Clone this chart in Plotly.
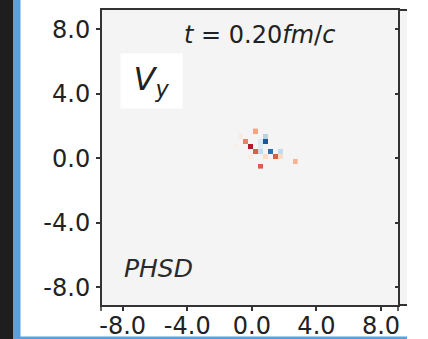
import numpy as np
import plotly.graph_objects as go

# V_y map cells: centre positions (fm) and values
cell_x = [0.245, -0.67, 0.855, -0.365, 0.55, 0.855, -0.975, -0.06, 0.55, 0.245,
          0.55, 1.16, 1.77, -0.06, 0.855, 1.465, 1.77, 2.685, 0.55]
cell_y = [1.69, 1.38, 1.38, 1.07, 1.07, 1.07, 0.76, 0.76, 0.76, 0.45,
          0.45, 0.45, 0.45, 0.14, 0.14, 0.14, 0.14, -0.17, -0.48]
cell_v = [0.40, 0.10, -0.30, 0.50, -0.15, -0.85, 0.06, 0.80, -0.12, 0.60,
          -0.25, -0.75, -0.25, 0.08, 0.20, 0.60, 0.20, 0.35, 0.60]
grid_dx = 0.305
grid_dy = 0.31

tick_vals = [-8.0, -4.0, 0.0, 4.0, 8.0]
tick_text = [f"{v:.1f}" for v in tick_vals]

x_range = [-9.28, 9.05]
y_range = [-9.11, 9.21]

# regular grid holding the cells
x0, y0 = min(cell_x), min(cell_y)
nx = int(round((max(cell_x) - x0) / grid_dx)) + 1
ny = int(round((max(cell_y) - y0) / grid_dy)) + 1
z = [[None] * nx for _ in range(ny)]
for cx, cy, v in zip(cell_x, cell_y, cell_v):
    i = int(round((cx - x0) / grid_dx))
    j = int(round((cy - y0) / grid_dy))
    z[j][i] = v

rdbu_r = ['#053061', '#2166ac', '#4393c3', '#92c5de', '#d1e5f0', '#f7f7f7',
          '#fddbc7', '#f4a582', '#d6604d', '#b2182b', '#67001f']
colorscale = [[k / 10, c] for k, c in enumerate(rdbu_r)]

W, H = 428, 339
ML, MR, MT, MB = 102, 30, 10, 34
PW, PH = W - ML - MR, H - MT - MB


def px_x(p):
    return (p - ML) / PW


def px_y(p):
    return (H - MB - p) / PH


fig = go.Figure()
fig.add_trace(go.Heatmap(
    x0=x0, dx=grid_dx, y0=y0, dy=grid_dy, z=z,
    colorscale=colorscale, zmin=-1, zmax=1, showscale=False,
    hoverinfo='skip', xaxis='x', yaxis='y'))
# inward ticks on the right edge
fig.add_trace(go.Scatter(x=[None], y=[None], xaxis='x', yaxis='y2', showlegend=False))

tick_font = dict(family='DejaVu Sans', size=24, color='#222')
frame = dict(showline=True, linewidth=2, linecolor='#333', mirror=True,
             showgrid=False, zeroline=False, ticks='outside', ticklen=4,
             tickwidth=1.5, tickcolor='#333', tickfont=tick_font, automargin=False)

fig.update_layout(
    width=W, height=H,
    margin=dict(l=ML, r=MR, t=MT, b=MB, autoexpand=False),
    paper_bgcolor='white', plot_bgcolor='#f4f4f4',
    showlegend=False,
    xaxis=dict(range=x_range, anchor='y', tickvals=tick_vals, ticktext=tick_text,
               ticklabelstandoff=-6, **frame),
    yaxis=dict(range=y_range, anchor='x', tickvals=tick_vals, ticktext=tick_text,
               ticklabelstandoff=1, **frame),
    yaxis2=dict(overlaying='y', side='right', anchor='x', range=y_range,
                tickvals=tick_vals, showticklabels=False, ticks='inside',
                ticklen=3, tickwidth=1.5, tickcolor='#333', automargin=False,
                showline=False, showgrid=False, zeroline=False),
)

fig.add_annotation(
    xref='paper', yref='paper', x=px_x(259.5), y=px_y(35),
    xanchor='center', yanchor='middle', showarrow=False,
    text='<i>t</i> = 0.20<i>fm</i>/<i>c</i>',
    font=dict(family='DejaVu Sans', size=24, color='#222'))
fig.add_annotation(
    xref='paper', yref='paper', x=px_x(151.5), y=px_y(81),
    xanchor='center', yanchor='middle', showarrow=False,
    width=61, height=54, borderpad=0, bgcolor='white',
    text='<i>V</i><sub><i>y</i></sub>',
    font=dict(family='DejaVu Sans', size=32, color='#222'))
fig.add_annotation(
    xref='paper', yref='paper', x=px_x(122), y=px_y(268),
    xanchor='left', yanchor='middle', showarrow=False,
    text='<i>PHSD</i>',
    font=dict(family='DejaVu Sans', size=25, color='#2a2a2a'))

# edge of the neighbouring panel
fig.add_shape(type='rect', xref='paper', yref='paper', layer='below',
              x0=px_x(399), x1=px_x(407), y0=px_y(305), y1=px_y(10),
              fillcolor='#f4f4f4', line_width=0)
for yy in (10, 305):
    fig.add_shape(type='line', xref='paper', yref='paper', layer='above',
                  x0=px_x(398), x1=px_x(407), y0=px_y(yy), y1=px_y(yy),
                  line=dict(color='#333', width=2))
for xx in (101, 398):
    fig.add_shape(type='line', xref='paper', yref='paper', layer='above',
                  x0=px_x(xx), x1=px_x(xx), y0=px_y(305), y1=px_y(311),
                  line=dict(color='#333', width=1.5))

# page surroundings: side bars and bottom rule
fig.add_shape(type='rect', xref='paper', yref='paper', layer='above',
              x0=px_x(-2), x1=px_x(13), y0=px_y(H + 2), y1=px_y(-2),
              fillcolor='#1e1e1e', line_width=0)
fig.add_shape(type='rect', xref='paper', yref='paper', layer='above',
              x0=px_x(13), x1=px_x(20.5), y0=px_y(H + 2), y1=px_y(-2),
              fillcolor='#5aa0dc', line_width=0)
fig.add_shape(type='rect', xref='paper', yref='paper', layer='above',
              x0=px_x(13), x1=px_x(407), y0=px_y(H + 2), y1=px_y(336.5),
              fillcolor='#5aa0dc', line_width=0)

fig.write_html('out.html')
